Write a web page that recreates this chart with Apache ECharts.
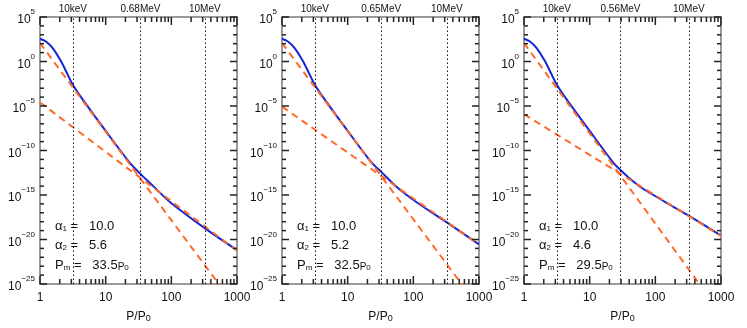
<!DOCTYPE html>
<html>
<head>
<meta charset="utf-8">
<script src="https://cdn.jsdelivr.net/npm/echarts@6/dist/echarts.min.js"></script>
<style>
  html, body { margin: 0; padding: 0; background: #fff; }
  #chart { width: 747px; height: 328px; }
</style>
</head>
<body>
<div id="chart"></div>
<script>
// ---- data (p / p0 and log10 of the distribution) ----
var pTotal1 = [1, 1.23, 1.56, 2.09, 2.64, 3.14, 4.46, 10, 23.4, 33.5, 53, 95, 326, 990];
var logTotal1 = [2.55, 2.25, 1.51, 0.02, -1.47, -2.58, -4.26, -7.8, -11.4, -12.6, -14.0, -15.78, -18.75, -21.17];
var pTotal2 = [1, 1.23, 1.56, 2.09, 2.64, 3.14, 4.46, 10, 23.4, 32.5, 53, 111, 324, 1000];
var logTotal2 = [2.55, 2.25, 1.51, 0.02, -1.47, -2.58, -4.26, -7.8, -11.4, -12.4, -13.95, -15.78, -18.08, -20.54];
var pTotal3 = [1, 1.23, 1.56, 2.09, 2.64, 3.14, 4.46, 10, 23.4, 29.5, 40, 65, 313, 1000];
var logTotal3 = [2.55, 2.25, 1.51, 0.02, -1.47, -2.58, -4.26, -7.8, -11.45, -12.2, -13.1, -14.3, -17.27, -19.57];

// first power law (alpha1)
var pSteep1 = [1, 53, 1000];
var logSteep1 = [2.07, -15.1, -27.75];
var pSteep2 = [1, 357, 1000];
var logSteep2 = [2.07, -23.2, -27.6];
var pSteep3 = [1, 311, 1000];
var logSteep3 = [2.07, -23.2, -28.3];

// second power law (alpha2)
var pFlat = [1, 1000];
var logFlat1 = [-4.6, -21.25];
var logFlat2 = [-5.07, -20.55];
var logFlat3 = [-5.93, -19.6];

// dotted reference momenta and their labels
var pRef1 = [3.13, 33.5, 320];
var pRef2 = [3.13, 32.5, 320];
var pRef3 = [3.13, 29.5, 320];
var refNames1 = ['10keV', '0.68MeV', '10MeV'];
var refNames2 = ['10keV', '0.65MeV', '10MeV'];
var refNames3 = ['10keV', '0.56MeV', '10MeV'];

var alpha1 = ['10.0', '10.0', '10.0'];
var alpha2 = ['5.6', '5.2', '4.6'];
var pm = ['33.5', '32.5', '29.5'];

var xTicks = [1, 10, 100, 1000];
var xMinor = [2, 3, 4, 5, 6, 7, 8, 9, 20, 30, 40, 50, 60, 70, 80, 90, 200, 300, 400, 500, 600, 700, 800, 900];
var yMin = -25, yMax = 5, yStep = 5;

// ---- layout ----
var FONT = 'Liberation Sans';
var gridLeft = [40, 282, 524];
var gridW = 197, gridTop = 17, gridH = 269;
var frameGrey = '#9a9a9a';
var tickCol = '#222';

function toPts(ps, ls) {
  return ps.map(function (p, i) { return [Math.log10(p), ls[i]]; });
}

var panels = [
  { total: toPts(pTotal1, logTotal1), steep: toPts(pSteep1, logSteep1), flat: toPts(pFlat, logFlat1), ref: pRef1, names: refNames1 },
  { total: toPts(pTotal2, logTotal2), steep: toPts(pSteep2, logSteep2), flat: toPts(pFlat, logFlat2), ref: pRef2, names: refNames2 },
  { total: toPts(pTotal3, logTotal3), steep: toPts(pSteep3, logSteep3), flat: toPts(pFlat, logFlat3), ref: pRef3, names: refNames3 }
];

// tick list: [side, value, length]  side 0 bottom, 1 top, 2 left, 3 right
var tickList = [];
xTicks.forEach(function (v) { tickList.push([0, Math.log10(v), 8], [1, Math.log10(v), 8]); });
xMinor.forEach(function (v) { tickList.push([0, Math.log10(v), 5], [1, Math.log10(v), 5]); });
for (var e = yMin; e <= yMax; e++) {
  var len = (e % yStep === 0) ? 7 : 4;
  tickList.push([2, e, len], [3, e, len]);
}

function renderTick(params, api) {
  var side = api.value(0), v = api.value(1), len = api.value(2);
  var p, shape;
  if (side === 0) { p = api.coord([v, yMin]); shape = { x1: p[0], y1: p[1], x2: p[0], y2: p[1] - len }; }
  else if (side === 1) { p = api.coord([v, yMax]); shape = { x1: p[0], y1: p[1], x2: p[0], y2: p[1] + len }; }
  else if (side === 2) { p = api.coord([0, v]); shape = { x1: p[0], y1: p[1], x2: p[0] + len, y2: p[1] }; }
  else { p = api.coord([3, v]); shape = { x1: p[0], y1: p[1], x2: p[0] - len, y2: p[1] }; }
  return { type: 'line', shape: shape, style: { stroke: tickCol, lineWidth: 1.5 } };
}

var grids = [], xAxes = [], yAxes = [], series = [], graphics = [];

panels.forEach(function (pan, i) {
  grids.push({
    left: gridLeft[i], top: gridTop, width: gridW, height: gridH,
    show: true, borderColor: frameGrey, borderWidth: 2, backgroundColor: 'transparent'
  });

  xAxes.push({
    type: 'value', gridIndex: i, min: 0, max: 3, interval: 1,
    splitLine: { show: false },
    axisLine: { show: false, onZero: false },
    axisTick: { show: false },
    axisLabel: {
      color: '#111', fontSize: 12, fontFamily: FONT, margin: 8,
      formatter: function (v) { return String(Math.round(Math.pow(10, v))); }
    },
    name: '{t|P/P}{s|0}', nameLocation: 'middle', nameGap: 24,
    nameTextStyle: {
      rich: {
        t: { fontSize: 12, fontFamily: FONT, color: '#111', lineHeight: 15, verticalAlign: 'bottom' },
        s: { fontSize: 9, fontFamily: FONT, color: '#111', lineHeight: 13, verticalAlign: 'bottom' }
      }
    }
  });

  yAxes.push({
    type: 'value', gridIndex: i, min: yMin, max: yMax, interval: yStep,
    splitLine: { show: false },
    axisLine: { show: false, onZero: false },
    axisTick: { show: false },
    axisLabel: {
      margin: 5,
      formatter: function (v) {
        var ex = v < 0 ? '\u2212' + (-v) : String(v);
        return '{b|10}{s|' + ex + '}';
      },
      rich: {
        b: { fontSize: 12, fontFamily: FONT, color: '#111', lineHeight: 18, verticalAlign: 'bottom' },
        s: { fontSize: 8, fontFamily: FONT, color: '#111', lineHeight: 10, verticalAlign: 'top' }
      }
    }
  });

  series.push({
    type: 'line', xAxisIndex: i, yAxisIndex: i, data: pan.total,
    smooth: 0.3, showSymbol: false, symbol: 'none',
    lineStyle: { color: '#1526d6', width: 2 }, z: 2
  });
  series.push({
    type: 'line', xAxisIndex: i, yAxisIndex: i, data: pan.steep,
    showSymbol: false, symbol: 'none',
    lineStyle: { color: '#ff6a2a', width: 2, type: [7, 5] }, z: 3
  });
  series.push({
    type: 'line', xAxisIndex: i, yAxisIndex: i, data: pan.flat,
    showSymbol: false, symbol: 'none',
    lineStyle: { color: '#ff6a2a', width: 2, type: [7, 5] }, z: 3,
    markLine: {
      silent: true, symbol: ['none', 'none'], animation: false,
      lineStyle: { color: '#111', width: 1, type: [1.5, 2.5] },
      label: { position: 'end', distance: 3, color: '#111', fontSize: 10, fontFamily: FONT },
      data: pan.ref.map(function (p, k) {
        return { xAxis: Math.log10(p), label: { formatter: pan.names[k] } };
      })
    }
  });
  // frame ticks drawn through the panel's own axes
  series.push({
    type: 'custom', xAxisIndex: i, yAxisIndex: i, data: tickList,
    renderItem: renderTick, silent: true, clip: false, z: 6
  });

  // parameter annotations
  var tx = gridLeft[i] + 15;
  var rich = {
    a: { fontSize: 13, fontFamily: FONT, fill: '#111', lineHeight: 16, verticalAlign: 'bottom' },
    d: { fontSize: 8, fontFamily: FONT, fill: '#111', lineHeight: 11, verticalAlign: 'bottom' },
    t: { fontSize: 13, fontFamily: FONT, fill: '#111', lineHeight: 16, verticalAlign: 'bottom' },
    u: { fontSize: 10, fontFamily: FONT, fill: '#111', lineHeight: 13, verticalAlign: 'bottom' }
  };
  graphics.push({ type: 'text', left: tx, top: 220, z: 10,
    style: { text: '{a|\u03b1}{d|1}{t| =   ' + alpha1[i] + '}', rich: rich } });
  graphics.push({ type: 'text', left: tx, top: 239, z: 10,
    style: { text: '{a|\u03b1}{d|2}{t| =   ' + alpha2[i] + '}', rich: rich } });
  graphics.push({ type: 'text', left: tx, top: 259, z: 10,
    style: { text: '{a|P}{d|m}{t| =   ' + pm[i] + '}{u|P}{d|0}', rich: rich } });
});

var chart = echarts.init(document.getElementById('chart'), null, { renderer: 'canvas' });
chart.setOption({
  animation: false,
  backgroundColor: '#fff',
  grid: grids,
  xAxis: xAxes,
  yAxis: yAxes,
  series: series,
  graphic: graphics
});
</script>
</body>
</html>
